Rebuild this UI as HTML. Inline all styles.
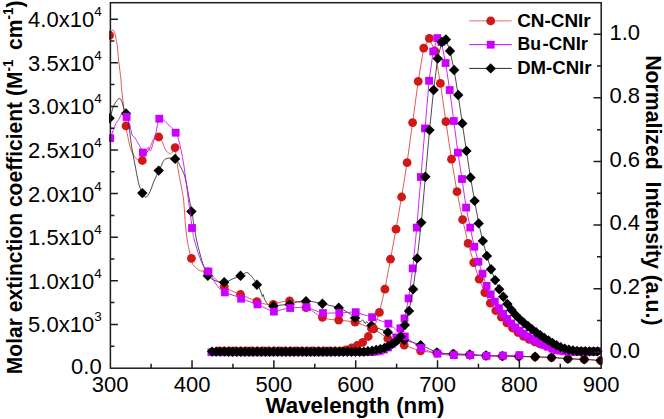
<!DOCTYPE html>
<html><head><meta charset="utf-8"><style>
html,body{margin:0;padding:0;background:#fff;overflow:hidden;}
svg{display:block;}
</style></head><body>
<svg width="664" height="419" viewBox="0 0 664 419">
<defs><clipPath id="cp"><rect x="109" y="1" width="493.5" height="368"/></clipPath></defs>
<g clip-path="url(#cp)">
<path d="M110.2,35.4 C110.4,34.8 111.0,32.4 111.5,31.5 C112.0,30.6 112.6,29.6 113.3,30.3 C114.0,31.1 114.8,33.0 115.5,36.0 C116.2,39.0 117.0,44.0 117.5,48.0 C118.0,52.0 118.0,54.7 118.6,60.0 C119.2,65.3 120.5,75.0 121.0,80.0 C121.5,85.0 121.2,85.5 121.7,90.0 C122.2,94.5 123.0,101.1 123.7,107.0 C124.4,112.9 125.1,121.2 125.7,125.6 C126.3,130.0 126.4,129.6 127.2,133.4 C128.0,137.2 129.2,144.5 130.5,148.4 C131.8,152.3 133.4,154.9 134.7,156.8 C135.9,158.7 136.8,159.2 138.0,159.8 C139.2,160.4 140.7,161.3 141.9,160.5 C143.1,159.7 143.7,157.0 145.0,155.0 C146.3,153.0 148.2,151.2 149.7,148.4 C151.2,145.6 152.4,140.3 153.9,138.4 C155.4,136.5 157.0,136.5 158.4,137.0 C159.8,137.5 161.1,139.6 162.2,141.5 C163.3,143.4 163.8,146.7 165.0,148.7 C166.2,150.7 168.2,153.1 169.4,153.7 C170.6,154.3 171.3,153.3 172.2,152.3 C173.1,151.3 173.9,144.9 174.8,147.6 C175.8,150.3 176.8,162.1 177.9,168.7 C179.0,175.3 180.6,182.1 181.5,187.3 C182.4,192.5 182.9,193.7 183.6,200.0 C184.3,206.3 184.8,218.0 185.5,225.0 C186.2,232.0 186.6,236.4 187.5,242.0 C188.4,247.6 190.3,254.6 191.2,258.3 C192.1,262.0 191.7,262.4 192.9,264.4 C194.1,266.3 196.9,268.9 198.6,270.0 C200.3,271.1 201.3,270.9 202.9,271.2 C204.5,271.5 206.2,270.6 208.4,272.0 C210.6,273.4 213.2,277.0 215.8,279.4 C218.4,281.8 221.4,284.6 224.1,286.5 C226.8,288.4 229.3,289.7 232.0,291.0 C234.7,292.3 237.6,293.3 240.4,294.5 C243.2,295.7 246.2,296.8 249.0,298.0 C251.8,299.2 254.5,300.6 257.2,301.6 C259.9,302.6 262.4,303.5 265.0,304.0 C267.6,304.5 270.3,304.7 273.0,304.4 C275.7,304.1 278.2,302.6 281.0,302.0 C283.8,301.4 286.3,300.8 289.5,300.8 C292.7,300.8 297.1,301.3 300.0,302.2 C302.9,303.1 304.4,304.4 306.6,306.0 C308.8,307.6 310.4,309.6 313.0,311.5 C315.6,313.4 319.4,316.0 322.3,317.3 C325.2,318.6 327.3,318.9 330.1,319.4 C332.9,319.9 336.1,319.8 338.9,320.1 C341.7,320.4 344.3,320.6 347.0,321.0 C349.7,321.4 352.4,321.5 355.1,322.2 C357.8,322.9 360.2,323.9 363.0,325.0 C365.8,326.1 369.2,327.2 372.0,328.5 C374.8,329.8 377.3,331.3 380.0,333.0 C382.7,334.7 385.3,337.2 388.0,338.7 C390.7,340.2 393.4,340.9 396.0,342.0 C398.6,343.1 400.9,344.1 403.6,345.1 C406.3,346.1 409.1,347.1 412.0,348.0 C414.9,348.9 416.6,350.0 420.8,350.8 C425.1,351.6 432.0,352.5 437.5,353.0 C443.0,353.5 448.4,353.7 453.9,354.0 C459.3,354.3 464.8,354.7 470.2,355.0 C475.6,355.3 481.2,355.8 486.6,356.0 C492.1,356.2 497.4,356.1 502.9,356.2 C508.3,356.3 513.8,356.4 519.3,356.5 C524.8,356.6 530.2,356.8 535.7,357.0 C541.2,357.2 546.5,357.3 552.0,357.6 C557.5,357.9 562.9,358.5 568.4,358.8 C573.9,359.1 579.3,359.1 584.8,359.4 C590.3,359.7 598.5,360.4 601.2,360.6" fill="none" stroke="#e03a3a" stroke-width="0.85"/><g fill="#d01818"><circle cx="109.6" cy="35.4" r="4.4"/><circle cx="126.0" cy="125.8" r="4.4"/><circle cx="142.3" cy="160.5" r="4.4"/><circle cx="158.7" cy="137.0" r="4.4"/><circle cx="175.1" cy="147.6" r="4.4"/><circle cx="191.4" cy="258.3" r="4.4"/><circle cx="207.8" cy="272.0" r="4.4"/><circle cx="224.2" cy="286.5" r="4.4"/><circle cx="240.5" cy="294.5" r="4.4"/><circle cx="256.9" cy="301.6" r="4.4"/><circle cx="273.3" cy="304.4" r="4.4"/><circle cx="289.6" cy="300.8" r="4.4"/><circle cx="306.0" cy="307.6" r="4.4"/><circle cx="322.4" cy="317.3" r="4.4"/><circle cx="338.7" cy="320.1" r="4.4"/><circle cx="355.1" cy="322.2" r="4.4"/><circle cx="371.5" cy="328.5" r="4.4"/><circle cx="387.8" cy="338.7" r="4.4"/><circle cx="404.2" cy="345.1" r="4.4"/><circle cx="420.6" cy="350.8" r="4.4"/><circle cx="436.9" cy="353.0" r="4.4"/><circle cx="453.3" cy="354.0" r="4.4"/><circle cx="469.7" cy="355.0" r="4.4"/><circle cx="486.0" cy="356.0" r="4.4"/><circle cx="502.4" cy="356.2" r="4.4"/><circle cx="518.8" cy="356.5" r="4.4"/><circle cx="535.1" cy="357.0" r="4.4"/><circle cx="551.5" cy="357.6" r="4.4"/><circle cx="567.9" cy="358.8" r="4.4"/><circle cx="584.2" cy="359.4" r="4.4"/><circle cx="600.6" cy="360.6" r="4.4"/></g>
<path d="M110.2,118.3 C110.7,116.4 112.2,109.8 113.2,107.0 C114.2,104.2 115.4,102.6 116.5,101.2 C117.6,99.8 118.8,98.2 119.8,98.5 C120.8,98.8 121.6,101.0 122.4,103.1 C123.2,105.2 123.7,109.3 124.4,111.0 C125.1,112.7 125.8,111.2 126.6,113.5 C127.3,115.8 128.1,119.8 128.9,125.0 C129.7,130.2 130.3,137.7 131.4,145.0 C132.5,152.3 134.4,161.8 135.7,168.6 C137.0,175.4 138.1,181.8 139.3,185.8 C140.5,189.8 141.8,190.6 142.9,192.5 C144.0,194.4 144.6,197.5 145.8,197.3 C147.0,197.1 148.7,194.4 150.1,191.5 C151.5,188.6 152.9,183.5 154.4,180.0 C155.9,176.5 157.8,173.8 159.3,170.6 C160.9,167.4 162.1,162.8 163.7,160.7 C165.2,158.6 166.6,158.5 168.6,158.2 C170.6,157.9 173.8,157.6 175.7,158.9 C177.6,160.2 178.4,162.8 180.0,165.8 C181.6,168.9 183.4,171.5 185.0,177.2 C186.6,182.9 188.2,194.3 189.4,200.0 C190.6,205.7 191.2,207.2 192.0,211.5 C192.8,215.8 193.2,221.2 194.0,226.0 C194.8,230.8 195.5,235.3 196.5,240.0 C197.5,244.7 198.8,249.5 200.0,254.0 C201.2,258.5 202.6,263.4 204.0,267.0 C205.4,270.6 206.6,273.6 208.4,275.8 C210.2,278.1 212.3,279.4 215.0,280.5 C217.7,281.6 221.8,282.5 224.8,282.2 C227.8,281.9 230.3,279.8 233.0,278.7 C235.7,277.6 238.6,276.8 241.1,275.8 C243.6,274.8 245.2,271.4 247.9,272.9 C250.6,274.4 255.2,281.2 257.5,284.7 C259.8,288.2 260.7,291.7 261.5,293.7 C262.3,295.7 262.2,296.4 262.5,296.5 C262.8,296.6 263.0,294.1 263.3,294.5 C263.6,294.9 263.6,297.2 264.5,299.0 C265.4,300.8 267.1,303.9 268.7,305.1 C270.3,306.3 271.8,306.2 273.9,306.2 C275.9,306.2 278.3,305.3 281.0,305.0 C283.7,304.7 287.5,304.9 290.2,304.4 C292.9,303.9 294.3,302.6 297.0,302.0 C299.7,301.4 303.8,300.8 306.6,300.8 C309.4,300.8 311.3,301.5 314.0,302.0 C316.7,302.5 320.2,303.1 322.9,303.7 C325.6,304.3 327.3,304.8 330.0,305.5 C332.7,306.2 336.5,306.7 339.3,307.8 C342.1,308.9 344.3,310.3 347.0,312.0 C349.7,313.7 353.5,316.3 355.7,317.9 C357.9,319.5 358.8,321.1 360.0,321.5 C361.2,321.9 362.1,319.6 362.9,320.0 C363.7,320.4 364.4,323.4 365.0,323.6 C365.6,323.9 365.9,321.4 366.6,321.5 C367.3,321.6 368.1,323.8 369.0,324.5 C369.9,325.2 370.2,324.8 372.0,325.5 C373.8,326.2 377.3,327.9 380.0,329.0 C382.7,330.1 385.7,331.0 388.4,332.2 C391.1,333.4 393.3,334.7 396.0,336.0 C398.7,337.3 400.6,338.5 404.8,340.0 C409.0,341.5 415.7,343.0 421.1,345.1 C426.6,347.2 432.0,350.9 437.5,352.4 C443.0,353.9 448.4,353.5 453.9,353.9 C459.3,354.2 464.8,354.2 470.2,354.5 C475.6,354.8 481.2,355.2 486.6,355.5 C492.1,355.8 497.4,355.9 502.9,356.0 C508.3,356.1 513.8,356.2 519.3,356.3 C524.8,356.4 530.2,356.6 535.7,356.8 C541.2,357.0 546.5,357.1 552.0,357.4 C557.5,357.7 562.9,358.5 568.4,358.8 C573.9,359.1 579.3,359.1 584.8,359.4 C590.3,359.7 598.5,360.4 601.2,360.6" fill="none" stroke="#2a2a2a" stroke-width="0.85"/><g fill="#000"><path d="M109.6,113.1l5.2,5.2l-5.2,5.2l-5.2,-5.2z"/><path d="M126.0,108.3l5.2,5.2l-5.2,5.2l-5.2,-5.2z"/><path d="M142.3,187.9l5.2,5.2l-5.2,5.2l-5.2,-5.2z"/><path d="M158.7,165.4l5.2,5.2l-5.2,5.2l-5.2,-5.2z"/><path d="M175.1,153.7l5.2,5.2l-5.2,5.2l-5.2,-5.2z"/><path d="M191.4,206.3l5.2,5.2l-5.2,5.2l-5.2,-5.2z"/><path d="M207.8,270.6l5.2,5.2l-5.2,5.2l-5.2,-5.2z"/><path d="M224.2,277.0l5.2,5.2l-5.2,5.2l-5.2,-5.2z"/><path d="M240.5,270.6l5.2,5.2l-5.2,5.2l-5.2,-5.2z"/><path d="M256.9,279.5l5.2,5.2l-5.2,5.2l-5.2,-5.2z"/><path d="M273.3,301.0l5.2,5.2l-5.2,5.2l-5.2,-5.2z"/><path d="M289.6,299.2l5.2,5.2l-5.2,5.2l-5.2,-5.2z"/><path d="M306.0,296.0l5.2,5.2l-5.2,5.2l-5.2,-5.2z"/><path d="M322.4,298.5l5.2,5.2l-5.2,5.2l-5.2,-5.2z"/><path d="M338.7,302.6l5.2,5.2l-5.2,5.2l-5.2,-5.2z"/><path d="M355.1,312.7l5.2,5.2l-5.2,5.2l-5.2,-5.2z"/><path d="M371.5,320.3l5.2,5.2l-5.2,5.2l-5.2,-5.2z"/><path d="M387.8,327.0l5.2,5.2l-5.2,5.2l-5.2,-5.2z"/><path d="M404.2,334.8l5.2,5.2l-5.2,5.2l-5.2,-5.2z"/><path d="M420.6,339.9l5.2,5.2l-5.2,5.2l-5.2,-5.2z"/><path d="M436.9,347.2l5.2,5.2l-5.2,5.2l-5.2,-5.2z"/><path d="M453.3,348.7l5.2,5.2l-5.2,5.2l-5.2,-5.2z"/><path d="M469.7,349.3l5.2,5.2l-5.2,5.2l-5.2,-5.2z"/><path d="M486.0,350.3l5.2,5.2l-5.2,5.2l-5.2,-5.2z"/><path d="M502.4,350.8l5.2,5.2l-5.2,5.2l-5.2,-5.2z"/><path d="M518.8,351.1l5.2,5.2l-5.2,5.2l-5.2,-5.2z"/><path d="M535.1,351.6l5.2,5.2l-5.2,5.2l-5.2,-5.2z"/><path d="M551.5,352.2l5.2,5.2l-5.2,5.2l-5.2,-5.2z"/><path d="M567.9,353.6l5.2,5.2l-5.2,5.2l-5.2,-5.2z"/><path d="M584.2,354.2l5.2,5.2l-5.2,5.2l-5.2,-5.2z"/><path d="M600.6,355.4l5.2,5.2l-5.2,5.2l-5.2,-5.2z"/></g>
<path d="M110.2,138.4 C110.6,137.3 111.8,134.3 112.6,132.0 C113.4,129.7 114.4,126.5 115.2,124.8 C116.0,123.0 116.7,122.3 117.2,121.5 C117.8,120.7 118.0,121.1 118.5,120.2 C119.0,119.3 119.8,117.3 120.4,116.2 C121.1,115.1 121.4,113.5 122.4,113.6 C123.4,113.7 125.1,115.0 126.3,116.9 C127.5,118.8 128.7,122.0 129.7,125.0 C130.7,128.0 131.4,132.9 132.2,135.0 C133.0,137.1 133.4,135.8 134.7,137.6 C135.9,139.4 138.3,143.4 139.7,145.9 C141.1,148.4 141.8,151.5 143.0,152.5 C144.2,153.5 146.3,152.7 147.2,151.8 C148.1,150.9 147.9,147.2 148.5,147.0 C149.1,146.8 149.5,152.2 150.6,150.5 C151.7,148.8 153.8,141.3 155.0,136.7 C156.2,132.1 157.2,126.0 157.9,123.0 C158.6,120.0 158.4,119.2 159.4,118.7 C160.4,118.2 161.8,118.6 163.7,120.0 C165.6,121.4 168.7,125.1 170.8,127.2 C172.9,129.3 174.9,131.0 176.1,132.7 C177.3,134.4 176.8,132.6 178.0,137.2 C179.2,141.8 181.5,151.2 183.0,160.0 C184.5,168.8 185.7,178.7 187.2,190.0 C188.7,201.3 191.0,219.7 192.2,228.0 C193.4,236.3 193.2,235.7 194.3,240.0 C195.4,244.3 197.0,249.7 198.5,254.0 C200.0,258.3 201.8,263.1 203.5,266.0 C205.2,268.9 206.4,268.2 208.7,271.5 C211.0,274.8 214.5,282.3 217.2,285.8 C219.9,289.3 221.8,290.6 225.1,292.4 C228.4,294.2 234.6,295.6 237.3,296.6 C240.0,297.7 239.2,297.9 241.1,298.7 C243.0,299.5 246.3,300.6 249.0,301.5 C251.7,302.4 254.8,303.3 257.5,304.4 C260.2,305.5 262.3,306.8 265.0,308.0 C267.7,309.2 271.1,311.4 273.9,311.6 C276.7,311.9 279.3,310.1 282.0,309.5 C284.7,308.9 287.5,308.3 290.2,308.0 C292.9,307.7 295.3,307.6 298.0,307.5 C300.7,307.4 303.9,306.8 306.6,307.2 C309.3,307.6 311.3,309.0 314.0,310.0 C316.7,311.0 320.1,312.5 322.9,313.0 C325.7,313.5 328.3,313.0 331.0,313.0 C333.7,313.0 336.6,313.0 339.3,312.9 C342.0,312.8 344.3,312.6 347.0,312.5 C349.7,312.4 353.0,311.9 355.7,312.2 C358.4,312.5 360.3,313.7 363.0,314.5 C365.7,315.3 369.2,316.2 372.0,317.2 C374.8,318.2 377.3,319.4 380.0,320.5 C382.7,321.6 385.6,322.0 388.4,323.6 C391.1,325.2 393.8,327.9 396.5,330.0 C399.2,332.1 402.1,334.4 404.8,336.5 C407.6,338.6 410.3,340.6 413.0,342.5 C415.7,344.4 417.0,346.1 421.1,348.0 C425.2,349.9 432.0,352.5 437.5,353.7 C443.0,354.9 448.4,354.9 453.9,355.1 C459.3,355.3 464.8,355.0 470.2,355.1 C475.6,355.2 481.2,355.7 486.6,355.8 C492.1,355.9 497.4,355.7 502.9,355.6 C508.3,355.5 516.6,355.2 519.3,355.1" fill="none" stroke="#cc00ff" stroke-width="0.85"/><g fill="#cc00ff"><rect x="106.3" y="134.3" width="7.8" height="7.8"/><rect x="122.7" y="113.1" width="7.8" height="7.8"/><rect x="139.0" y="148.6" width="7.8" height="7.8"/><rect x="155.4" y="114.8" width="7.8" height="7.8"/><rect x="171.8" y="128.8" width="7.8" height="7.8"/><rect x="188.1" y="224.1" width="7.8" height="7.8"/><rect x="204.5" y="267.6" width="7.8" height="7.8"/><rect x="220.9" y="288.5" width="7.8" height="7.8"/><rect x="237.2" y="294.8" width="7.8" height="7.8"/><rect x="253.6" y="300.5" width="7.8" height="7.8"/><rect x="270.0" y="307.7" width="7.8" height="7.8"/><rect x="286.3" y="304.1" width="7.8" height="7.8"/><rect x="302.7" y="303.3" width="7.8" height="7.8"/><rect x="319.1" y="309.1" width="7.8" height="7.8"/><rect x="335.4" y="309.0" width="7.8" height="7.8"/><rect x="351.8" y="308.3" width="7.8" height="7.8"/><rect x="368.2" y="313.3" width="7.8" height="7.8"/><rect x="384.5" y="319.7" width="7.8" height="7.8"/><rect x="400.9" y="332.6" width="7.8" height="7.8"/><rect x="417.3" y="344.1" width="7.8" height="7.8"/><rect x="433.6" y="349.8" width="7.8" height="7.8"/><rect x="450.0" y="351.2" width="7.8" height="7.8"/><rect x="466.4" y="351.2" width="7.8" height="7.8"/><rect x="482.7" y="351.9" width="7.8" height="7.8"/><rect x="499.1" y="351.7" width="7.8" height="7.8"/><rect x="515.5" y="351.2" width="7.8" height="7.8"/></g>
<path d="M218.5,350.9 L224.1,350.9 L229.6,350.9 L235.2,350.9 L240.7,350.9 L246.2,350.9 L251.8,350.9 L257.3,350.9 L262.9,350.9 L268.4,350.9 L274.0,350.9 L279.5,350.9 L285.1,350.9 L290.6,350.9 L296.2,350.9 L301.7,350.9 L307.3,350.9 L312.8,350.9 L318.4,350.9 L323.9,350.9 L329.4,350.9 L335.0,350.9 L340.5,351.0 L346.1,349.9 L351.6,348.0 L357.2,345.5 L362.7,342.3 L368.3,336.5 L373.8,329.0 L379.4,312.4 L384.9,289.2 L390.5,259.2 L396.0,229.2 L401.6,197.0 L407.1,162.6 L412.6,122.6 L418.2,81.3 L423.7,48.1 L429.3,38.3 L434.8,51.0 L440.4,83.4 L445.9,121.7 L451.5,159.2 L457.0,191.7 L462.6,219.7 L468.1,243.4 L473.7,262.6 L479.2,279.2 L484.8,292.6 L490.3,303.2 L495.8,310.7 L501.4,317.2 L506.9,322.9 L512.5,328.0 L518.0,332.5 L523.6,336.4 L529.1,339.3 L534.7,341.8 L540.2,343.9 L545.8,345.9 L551.3,347.8 L556.9,349.4 L562.4,350.4 L568.0,351.1 L573.5,351.5 L579.0,351.5 L584.6,351.6 L590.1,351.6 L595.7,351.6" fill="none" stroke="#e03a3a" stroke-width="0.85"/><g fill="#d01818"><circle cx="218.5" cy="350.9" r="4.4"/><circle cx="224.1" cy="350.9" r="4.4"/><circle cx="229.6" cy="350.9" r="4.4"/><circle cx="235.2" cy="350.9" r="4.4"/><circle cx="240.7" cy="350.9" r="4.4"/><circle cx="246.2" cy="350.9" r="4.4"/><circle cx="251.8" cy="350.9" r="4.4"/><circle cx="257.3" cy="350.9" r="4.4"/><circle cx="262.9" cy="350.9" r="4.4"/><circle cx="268.4" cy="350.9" r="4.4"/><circle cx="274.0" cy="350.9" r="4.4"/><circle cx="279.5" cy="350.9" r="4.4"/><circle cx="285.1" cy="350.9" r="4.4"/><circle cx="290.6" cy="350.9" r="4.4"/><circle cx="296.2" cy="350.9" r="4.4"/><circle cx="301.7" cy="350.9" r="4.4"/><circle cx="307.3" cy="350.9" r="4.4"/><circle cx="312.8" cy="350.9" r="4.4"/><circle cx="318.4" cy="350.9" r="4.4"/><circle cx="323.9" cy="350.9" r="4.4"/><circle cx="329.4" cy="350.9" r="4.4"/><circle cx="335.0" cy="350.9" r="4.4"/><circle cx="340.5" cy="351.0" r="4.4"/><circle cx="346.1" cy="349.9" r="4.4"/><circle cx="351.6" cy="348.0" r="4.4"/><circle cx="357.2" cy="345.5" r="4.4"/><circle cx="362.7" cy="342.3" r="4.4"/><circle cx="368.3" cy="336.5" r="4.4"/><circle cx="373.8" cy="329.0" r="4.4"/><circle cx="379.4" cy="312.4" r="4.4"/><circle cx="384.9" cy="289.2" r="4.4"/><circle cx="390.5" cy="259.2" r="4.4"/><circle cx="396.0" cy="229.2" r="4.4"/><circle cx="401.6" cy="197.0" r="4.4"/><circle cx="407.1" cy="162.6" r="4.4"/><circle cx="412.6" cy="122.6" r="4.4"/><circle cx="418.2" cy="81.3" r="4.4"/><circle cx="423.7" cy="48.1" r="4.4"/><circle cx="429.3" cy="38.3" r="4.4"/><circle cx="434.8" cy="51.0" r="4.4"/><circle cx="440.4" cy="83.4" r="4.4"/><circle cx="445.9" cy="121.7" r="4.4"/><circle cx="451.5" cy="159.2" r="4.4"/><circle cx="457.0" cy="191.7" r="4.4"/><circle cx="462.6" cy="219.7" r="4.4"/><circle cx="468.1" cy="243.4" r="4.4"/><circle cx="473.7" cy="262.6" r="4.4"/><circle cx="479.2" cy="279.2" r="4.4"/><circle cx="484.8" cy="292.6" r="4.4"/><circle cx="490.3" cy="303.2" r="4.4"/><circle cx="495.8" cy="310.7" r="4.4"/><circle cx="501.4" cy="317.2" r="4.4"/><circle cx="506.9" cy="322.9" r="4.4"/><circle cx="512.5" cy="328.0" r="4.4"/><circle cx="518.0" cy="332.5" r="4.4"/><circle cx="523.6" cy="336.4" r="4.4"/><circle cx="529.1" cy="339.3" r="4.4"/><circle cx="534.7" cy="341.8" r="4.4"/><circle cx="540.2" cy="343.9" r="4.4"/><circle cx="545.8" cy="345.9" r="4.4"/><circle cx="551.3" cy="347.8" r="4.4"/><circle cx="556.9" cy="349.4" r="4.4"/><circle cx="562.4" cy="350.4" r="4.4"/><circle cx="568.0" cy="351.1" r="4.4"/><circle cx="573.5" cy="351.5" r="4.4"/><circle cx="579.0" cy="351.5" r="4.4"/><circle cx="584.6" cy="351.6" r="4.4"/><circle cx="590.1" cy="351.6" r="4.4"/><circle cx="595.7" cy="351.6" r="4.4"/></g>
<path d="M211.4,352.2 L215.5,352.2 L219.6,352.2 L223.7,352.2 L227.8,352.2 L231.9,352.2 L236.0,352.2 L240.2,352.2 L244.3,352.2 L248.4,352.2 L252.5,352.2 L256.6,352.2 L260.7,352.2 L264.8,352.2 L268.9,352.2 L273.0,352.2 L277.1,352.2 L281.2,352.2 L285.3,352.2 L289.4,352.2 L293.6,352.2 L297.7,352.2 L301.8,352.2 L305.9,352.2 L310.0,352.2 L314.1,352.2 L318.2,352.2 L322.3,352.2 L326.4,352.2 L330.5,352.2 L334.6,352.2 L338.7,352.1 L342.9,352.1 L347.0,352.1 L351.1,352.1 L355.2,352.1 L359.3,352.1 L363.4,352.1 L367.5,352.1 L371.6,352.1 L375.7,351.6 L379.8,350.8 L383.9,349.6 L388.0,347.4 L392.1,343.8 L396.3,337.4 L400.4,328.3 L404.5,318.4 L408.6,298.4 L412.7,268.4 L416.8,227.6 L420.9,177.0 L425.0,128.4 L429.1,80.8 L433.2,51.5 L437.3,38.1 L441.4,42.0 L445.6,63.0 L449.7,90.0 L453.8,121.0 L457.9,152.6 L462.0,179.0 L466.1,207.6 L470.2,227.6 L474.3,246.7 L478.4,261.7 L482.5,273.7 L486.6,285.9 L490.7,294.3 L494.8,301.7 L499.0,308.2 L503.1,313.8 L507.2,318.9 L511.3,323.4 L515.4,327.3 L519.5,330.7 L523.6,333.7 L527.7,336.4 L531.8,338.8 L535.9,340.9 L540.0,342.9 L544.1,344.8 L548.2,346.7 L552.4,348.6 L556.5,350.0 L560.6,350.7 L564.7,351.2 L568.8,351.6 L572.9,351.8 L577.0,351.8 L581.1,351.8 L585.2,351.7 L589.3,351.7 L593.4,351.5 L597.5,351.1" fill="none" stroke="#cc00ff" stroke-width="0.85"/><g fill="#cc00ff"><rect x="207.5" y="348.3" width="7.8" height="7.8"/><rect x="211.6" y="348.3" width="7.8" height="7.8"/><rect x="215.7" y="348.3" width="7.8" height="7.8"/><rect x="219.8" y="348.3" width="7.8" height="7.8"/><rect x="223.9" y="348.3" width="7.8" height="7.8"/><rect x="228.0" y="348.3" width="7.8" height="7.8"/><rect x="232.1" y="348.3" width="7.8" height="7.8"/><rect x="236.3" y="348.3" width="7.8" height="7.8"/><rect x="240.4" y="348.3" width="7.8" height="7.8"/><rect x="244.5" y="348.3" width="7.8" height="7.8"/><rect x="248.6" y="348.3" width="7.8" height="7.8"/><rect x="252.7" y="348.3" width="7.8" height="7.8"/><rect x="256.8" y="348.3" width="7.8" height="7.8"/><rect x="260.9" y="348.3" width="7.8" height="7.8"/><rect x="265.0" y="348.3" width="7.8" height="7.8"/><rect x="269.1" y="348.3" width="7.8" height="7.8"/><rect x="273.2" y="348.3" width="7.8" height="7.8"/><rect x="277.3" y="348.3" width="7.8" height="7.8"/><rect x="281.4" y="348.3" width="7.8" height="7.8"/><rect x="285.5" y="348.3" width="7.8" height="7.8"/><rect x="289.7" y="348.3" width="7.8" height="7.8"/><rect x="293.8" y="348.3" width="7.8" height="7.8"/><rect x="297.9" y="348.3" width="7.8" height="7.8"/><rect x="302.0" y="348.3" width="7.8" height="7.8"/><rect x="306.1" y="348.3" width="7.8" height="7.8"/><rect x="310.2" y="348.3" width="7.8" height="7.8"/><rect x="314.3" y="348.3" width="7.8" height="7.8"/><rect x="318.4" y="348.3" width="7.8" height="7.8"/><rect x="322.5" y="348.3" width="7.8" height="7.8"/><rect x="326.6" y="348.3" width="7.8" height="7.8"/><rect x="330.7" y="348.3" width="7.8" height="7.8"/><rect x="334.8" y="348.2" width="7.8" height="7.8"/><rect x="339.0" y="348.2" width="7.8" height="7.8"/><rect x="343.1" y="348.2" width="7.8" height="7.8"/><rect x="347.2" y="348.2" width="7.8" height="7.8"/><rect x="351.3" y="348.2" width="7.8" height="7.8"/><rect x="355.4" y="348.2" width="7.8" height="7.8"/><rect x="359.5" y="348.2" width="7.8" height="7.8"/><rect x="363.6" y="348.2" width="7.8" height="7.8"/><rect x="367.7" y="348.2" width="7.8" height="7.8"/><rect x="371.8" y="347.7" width="7.8" height="7.8"/><rect x="375.9" y="346.9" width="7.8" height="7.8"/><rect x="380.0" y="345.7" width="7.8" height="7.8"/><rect x="384.1" y="343.5" width="7.8" height="7.8"/><rect x="388.2" y="339.9" width="7.8" height="7.8"/><rect x="392.4" y="333.5" width="7.8" height="7.8"/><rect x="396.5" y="324.4" width="7.8" height="7.8"/><rect x="400.6" y="314.5" width="7.8" height="7.8"/><rect x="404.7" y="294.5" width="7.8" height="7.8"/><rect x="408.8" y="264.5" width="7.8" height="7.8"/><rect x="412.9" y="223.7" width="7.8" height="7.8"/><rect x="417.0" y="173.1" width="7.8" height="7.8"/><rect x="421.1" y="124.5" width="7.8" height="7.8"/><rect x="425.2" y="76.9" width="7.8" height="7.8"/><rect x="429.3" y="47.6" width="7.8" height="7.8"/><rect x="433.4" y="34.2" width="7.8" height="7.8"/><rect x="437.5" y="38.1" width="7.8" height="7.8"/><rect x="441.7" y="59.1" width="7.8" height="7.8"/><rect x="445.8" y="86.1" width="7.8" height="7.8"/><rect x="449.9" y="117.1" width="7.8" height="7.8"/><rect x="454.0" y="148.7" width="7.8" height="7.8"/><rect x="458.1" y="175.1" width="7.8" height="7.8"/><rect x="462.2" y="203.7" width="7.8" height="7.8"/><rect x="466.3" y="223.7" width="7.8" height="7.8"/><rect x="470.4" y="242.8" width="7.8" height="7.8"/><rect x="474.5" y="257.8" width="7.8" height="7.8"/><rect x="478.6" y="269.8" width="7.8" height="7.8"/><rect x="482.7" y="282.0" width="7.8" height="7.8"/><rect x="486.8" y="290.4" width="7.8" height="7.8"/><rect x="490.9" y="297.8" width="7.8" height="7.8"/><rect x="495.1" y="304.3" width="7.8" height="7.8"/><rect x="499.2" y="309.9" width="7.8" height="7.8"/><rect x="503.3" y="315.0" width="7.8" height="7.8"/><rect x="507.4" y="319.5" width="7.8" height="7.8"/><rect x="511.5" y="323.4" width="7.8" height="7.8"/><rect x="515.6" y="326.8" width="7.8" height="7.8"/><rect x="519.7" y="329.8" width="7.8" height="7.8"/><rect x="523.8" y="332.5" width="7.8" height="7.8"/><rect x="527.9" y="334.9" width="7.8" height="7.8"/><rect x="532.0" y="337.0" width="7.8" height="7.8"/><rect x="536.1" y="339.0" width="7.8" height="7.8"/><rect x="540.2" y="340.9" width="7.8" height="7.8"/><rect x="544.4" y="342.8" width="7.8" height="7.8"/><rect x="548.5" y="344.7" width="7.8" height="7.8"/><rect x="552.6" y="346.1" width="7.8" height="7.8"/><rect x="556.7" y="346.8" width="7.8" height="7.8"/><rect x="560.8" y="347.3" width="7.8" height="7.8"/><rect x="564.9" y="347.7" width="7.8" height="7.8"/><rect x="569.0" y="347.9" width="7.8" height="7.8"/><rect x="573.1" y="347.9" width="7.8" height="7.8"/><rect x="577.2" y="347.9" width="7.8" height="7.8"/><rect x="581.3" y="347.8" width="7.8" height="7.8"/><rect x="585.4" y="347.8" width="7.8" height="7.8"/><rect x="589.5" y="347.6" width="7.8" height="7.8"/><rect x="593.6" y="347.2" width="7.8" height="7.8"/></g>
<path d="M212.1,351.6 L216.2,351.6 L220.3,351.6 L224.4,351.6 L228.5,351.7 L232.6,351.7 L236.7,351.7 L240.8,351.7 L244.9,351.7 L249.0,351.7 L253.1,351.7 L257.2,351.7 L261.3,351.7 L265.4,351.7 L269.5,351.8 L273.6,351.8 L277.7,351.8 L281.8,351.8 L285.9,351.8 L290.0,351.8 L294.1,351.8 L298.2,351.8 L302.3,351.8 L306.4,351.8 L310.5,351.8 L314.6,351.8 L318.7,351.8 L322.8,351.8 L326.9,351.8 L331.0,351.8 L335.1,351.8 L339.2,351.8 L343.3,351.8 L347.4,351.8 L351.5,351.8 L355.6,351.8 L359.7,351.8 L363.8,351.7 L367.9,351.3 L372.1,350.7 L376.2,349.9 L380.3,349.1 L384.4,347.9 L388.5,346.1 L392.6,343.8 L396.7,341.0 L400.8,336.6 L404.9,325.1 L409.0,310.9 L413.1,289.2 L417.2,258.4 L421.3,222.6 L425.4,176.7 L429.5,130.1 L433.6,90.0 L437.7,58.6 L441.8,42.0 L445.9,39.5 L450.0,51.0 L454.1,70.0 L458.2,95.0 L462.3,123.4 L466.4,150.9 L470.5,177.5 L474.6,200.9 L478.7,223.4 L482.8,240.9 L486.9,255.9 L491.0,269.2 L495.1,280.1 L499.2,289.3 L503.3,296.8 L507.4,304.0 L511.5,310.0 L515.6,315.0 L519.7,319.1 L523.8,322.8 L527.9,326.0 L532.0,329.2 L536.1,332.3 L540.2,335.1 L544.3,337.9 L548.4,340.5 L552.5,343.0 L556.6,345.2 L560.7,347.1 L564.8,348.6 L568.9,349.8 L573.0,350.5 L577.1,351.0 L581.2,351.2 L585.3,351.3 L589.4,351.4 L593.5,351.4 L597.6,351.4" fill="none" stroke="#2a2a2a" stroke-width="0.85"/><g fill="#000"><path d="M212.1,346.4l5.2,5.2l-5.2,5.2l-5.2,-5.2z"/><path d="M216.2,346.4l5.2,5.2l-5.2,5.2l-5.2,-5.2z"/><path d="M220.3,346.4l5.2,5.2l-5.2,5.2l-5.2,-5.2z"/><path d="M224.4,346.4l5.2,5.2l-5.2,5.2l-5.2,-5.2z"/><path d="M228.5,346.5l5.2,5.2l-5.2,5.2l-5.2,-5.2z"/><path d="M232.6,346.5l5.2,5.2l-5.2,5.2l-5.2,-5.2z"/><path d="M236.7,346.5l5.2,5.2l-5.2,5.2l-5.2,-5.2z"/><path d="M240.8,346.5l5.2,5.2l-5.2,5.2l-5.2,-5.2z"/><path d="M244.9,346.5l5.2,5.2l-5.2,5.2l-5.2,-5.2z"/><path d="M249.0,346.5l5.2,5.2l-5.2,5.2l-5.2,-5.2z"/><path d="M253.1,346.5l5.2,5.2l-5.2,5.2l-5.2,-5.2z"/><path d="M257.2,346.5l5.2,5.2l-5.2,5.2l-5.2,-5.2z"/><path d="M261.3,346.5l5.2,5.2l-5.2,5.2l-5.2,-5.2z"/><path d="M265.4,346.5l5.2,5.2l-5.2,5.2l-5.2,-5.2z"/><path d="M269.5,346.6l5.2,5.2l-5.2,5.2l-5.2,-5.2z"/><path d="M273.6,346.6l5.2,5.2l-5.2,5.2l-5.2,-5.2z"/><path d="M277.7,346.6l5.2,5.2l-5.2,5.2l-5.2,-5.2z"/><path d="M281.8,346.6l5.2,5.2l-5.2,5.2l-5.2,-5.2z"/><path d="M285.9,346.6l5.2,5.2l-5.2,5.2l-5.2,-5.2z"/><path d="M290.0,346.6l5.2,5.2l-5.2,5.2l-5.2,-5.2z"/><path d="M294.1,346.6l5.2,5.2l-5.2,5.2l-5.2,-5.2z"/><path d="M298.2,346.6l5.2,5.2l-5.2,5.2l-5.2,-5.2z"/><path d="M302.3,346.6l5.2,5.2l-5.2,5.2l-5.2,-5.2z"/><path d="M306.4,346.6l5.2,5.2l-5.2,5.2l-5.2,-5.2z"/><path d="M310.5,346.6l5.2,5.2l-5.2,5.2l-5.2,-5.2z"/><path d="M314.6,346.6l5.2,5.2l-5.2,5.2l-5.2,-5.2z"/><path d="M318.7,346.6l5.2,5.2l-5.2,5.2l-5.2,-5.2z"/><path d="M322.8,346.6l5.2,5.2l-5.2,5.2l-5.2,-5.2z"/><path d="M326.9,346.6l5.2,5.2l-5.2,5.2l-5.2,-5.2z"/><path d="M331.0,346.6l5.2,5.2l-5.2,5.2l-5.2,-5.2z"/><path d="M335.1,346.6l5.2,5.2l-5.2,5.2l-5.2,-5.2z"/><path d="M339.2,346.6l5.2,5.2l-5.2,5.2l-5.2,-5.2z"/><path d="M343.3,346.6l5.2,5.2l-5.2,5.2l-5.2,-5.2z"/><path d="M347.4,346.6l5.2,5.2l-5.2,5.2l-5.2,-5.2z"/><path d="M351.5,346.6l5.2,5.2l-5.2,5.2l-5.2,-5.2z"/><path d="M355.6,346.6l5.2,5.2l-5.2,5.2l-5.2,-5.2z"/><path d="M359.7,346.6l5.2,5.2l-5.2,5.2l-5.2,-5.2z"/><path d="M363.8,346.5l5.2,5.2l-5.2,5.2l-5.2,-5.2z"/><path d="M367.9,346.1l5.2,5.2l-5.2,5.2l-5.2,-5.2z"/><path d="M372.1,345.5l5.2,5.2l-5.2,5.2l-5.2,-5.2z"/><path d="M376.2,344.7l5.2,5.2l-5.2,5.2l-5.2,-5.2z"/><path d="M380.3,343.9l5.2,5.2l-5.2,5.2l-5.2,-5.2z"/><path d="M384.4,342.7l5.2,5.2l-5.2,5.2l-5.2,-5.2z"/><path d="M388.5,340.9l5.2,5.2l-5.2,5.2l-5.2,-5.2z"/><path d="M392.6,338.6l5.2,5.2l-5.2,5.2l-5.2,-5.2z"/><path d="M396.7,335.8l5.2,5.2l-5.2,5.2l-5.2,-5.2z"/><path d="M400.8,331.4l5.2,5.2l-5.2,5.2l-5.2,-5.2z"/><path d="M404.9,319.9l5.2,5.2l-5.2,5.2l-5.2,-5.2z"/><path d="M409.0,305.7l5.2,5.2l-5.2,5.2l-5.2,-5.2z"/><path d="M413.1,284.0l5.2,5.2l-5.2,5.2l-5.2,-5.2z"/><path d="M417.2,253.2l5.2,5.2l-5.2,5.2l-5.2,-5.2z"/><path d="M421.3,217.4l5.2,5.2l-5.2,5.2l-5.2,-5.2z"/><path d="M425.4,171.5l5.2,5.2l-5.2,5.2l-5.2,-5.2z"/><path d="M429.5,124.9l5.2,5.2l-5.2,5.2l-5.2,-5.2z"/><path d="M433.6,84.8l5.2,5.2l-5.2,5.2l-5.2,-5.2z"/><path d="M437.7,53.4l5.2,5.2l-5.2,5.2l-5.2,-5.2z"/><path d="M441.8,36.8l5.2,5.2l-5.2,5.2l-5.2,-5.2z"/><path d="M445.9,34.3l5.2,5.2l-5.2,5.2l-5.2,-5.2z"/><path d="M450.0,45.8l5.2,5.2l-5.2,5.2l-5.2,-5.2z"/><path d="M454.1,64.8l5.2,5.2l-5.2,5.2l-5.2,-5.2z"/><path d="M458.2,89.8l5.2,5.2l-5.2,5.2l-5.2,-5.2z"/><path d="M462.3,118.2l5.2,5.2l-5.2,5.2l-5.2,-5.2z"/><path d="M466.4,145.7l5.2,5.2l-5.2,5.2l-5.2,-5.2z"/><path d="M470.5,172.3l5.2,5.2l-5.2,5.2l-5.2,-5.2z"/><path d="M474.6,195.7l5.2,5.2l-5.2,5.2l-5.2,-5.2z"/><path d="M478.7,218.2l5.2,5.2l-5.2,5.2l-5.2,-5.2z"/><path d="M482.8,235.7l5.2,5.2l-5.2,5.2l-5.2,-5.2z"/><path d="M486.9,250.7l5.2,5.2l-5.2,5.2l-5.2,-5.2z"/><path d="M491.0,264.0l5.2,5.2l-5.2,5.2l-5.2,-5.2z"/><path d="M495.1,274.9l5.2,5.2l-5.2,5.2l-5.2,-5.2z"/><path d="M499.2,284.1l5.2,5.2l-5.2,5.2l-5.2,-5.2z"/><path d="M503.3,291.6l5.2,5.2l-5.2,5.2l-5.2,-5.2z"/><path d="M507.4,298.8l5.2,5.2l-5.2,5.2l-5.2,-5.2z"/><path d="M511.5,304.8l5.2,5.2l-5.2,5.2l-5.2,-5.2z"/><path d="M515.6,309.8l5.2,5.2l-5.2,5.2l-5.2,-5.2z"/><path d="M519.7,313.9l5.2,5.2l-5.2,5.2l-5.2,-5.2z"/><path d="M523.8,317.6l5.2,5.2l-5.2,5.2l-5.2,-5.2z"/><path d="M527.9,320.8l5.2,5.2l-5.2,5.2l-5.2,-5.2z"/><path d="M532.0,324.0l5.2,5.2l-5.2,5.2l-5.2,-5.2z"/><path d="M536.1,327.1l5.2,5.2l-5.2,5.2l-5.2,-5.2z"/><path d="M540.2,329.9l5.2,5.2l-5.2,5.2l-5.2,-5.2z"/><path d="M544.3,332.7l5.2,5.2l-5.2,5.2l-5.2,-5.2z"/><path d="M548.4,335.3l5.2,5.2l-5.2,5.2l-5.2,-5.2z"/><path d="M552.5,337.8l5.2,5.2l-5.2,5.2l-5.2,-5.2z"/><path d="M556.6,340.0l5.2,5.2l-5.2,5.2l-5.2,-5.2z"/><path d="M560.7,341.9l5.2,5.2l-5.2,5.2l-5.2,-5.2z"/><path d="M564.8,343.4l5.2,5.2l-5.2,5.2l-5.2,-5.2z"/><path d="M568.9,344.6l5.2,5.2l-5.2,5.2l-5.2,-5.2z"/><path d="M573.0,345.3l5.2,5.2l-5.2,5.2l-5.2,-5.2z"/><path d="M577.1,345.8l5.2,5.2l-5.2,5.2l-5.2,-5.2z"/><path d="M581.2,346.0l5.2,5.2l-5.2,5.2l-5.2,-5.2z"/><path d="M585.3,346.1l5.2,5.2l-5.2,5.2l-5.2,-5.2z"/><path d="M589.4,346.2l5.2,5.2l-5.2,5.2l-5.2,-5.2z"/><path d="M593.5,346.2l5.2,5.2l-5.2,5.2l-5.2,-5.2z"/><path d="M597.6,346.2l5.2,5.2l-5.2,5.2l-5.2,-5.2z"/></g>
</g>
<rect x="110.4" y="2.7" width="490.8" height="365.5" fill="none" stroke="#1c1c1c" stroke-width="1.5"/>
<path d="M110.2,346.20h4.2 M110.2,324.40h7.7 M110.2,302.60h4.2 M110.2,280.80h7.7 M110.2,259.00h4.2 M110.2,237.20h7.7 M110.2,215.40h4.2 M110.2,193.60h7.7 M110.2,171.80h4.2 M110.2,150.00h7.7 M110.2,128.20h4.2 M110.2,106.40h7.7 M110.2,84.60h4.2 M110.2,62.80h7.7 M110.2,41.00h4.2 M110.2,19.20h7.7 M151.12,368.0v-4.2 M192.03,368.0v-7.7 M232.95,368.0v-4.2 M273.87,368.0v-7.7 M314.78,368.0v-4.2 M355.70,368.0v-7.7 M396.62,368.0v-4.2 M437.53,368.0v-7.7 M478.45,368.0v-4.2 M519.37,368.0v-7.7 M560.28,368.0v-4.2 M601.2,352.30h-7.7 M601.2,320.49h-4.2 M601.2,288.68h-7.7 M601.2,256.87h-4.2 M601.2,225.06h-7.7 M601.2,193.25h-4.2 M601.2,161.44h-7.7 M601.2,129.63h-4.2 M601.2,97.82h-7.7 M601.2,66.01h-4.2 M601.2,34.20h-7.7" stroke="#1c1c1c" stroke-width="1.5" fill="none"/>
<g font-family="Liberation Sans, sans-serif" font-size="22" fill="#000"><text x="101.7" y="373.80" text-anchor="end">0.0</text><text x="101.7" y="332.40" text-anchor="end">5.0x10<tspan dy="-11" font-size="13.5">3</tspan></text><text x="101.7" y="288.80" text-anchor="end">1.0x10<tspan dy="-11" font-size="13.5">4</tspan></text><text x="101.7" y="245.20" text-anchor="end">1.5x10<tspan dy="-11" font-size="13.5">4</tspan></text><text x="101.7" y="201.60" text-anchor="end">2.0x10<tspan dy="-11" font-size="13.5">4</tspan></text><text x="101.7" y="158.00" text-anchor="end">2.5x10<tspan dy="-11" font-size="13.5">4</tspan></text><text x="101.7" y="114.40" text-anchor="end">3.0x10<tspan dy="-11" font-size="13.5">4</tspan></text><text x="101.7" y="70.80" text-anchor="end">3.5x10<tspan dy="-11" font-size="13.5">4</tspan></text><text x="101.7" y="27.20" text-anchor="end">4.0x10<tspan dy="-11" font-size="13.5">4</tspan></text><text x="110.20" y="391.8" text-anchor="middle">300</text><text x="192.03" y="391.8" text-anchor="middle">400</text><text x="273.87" y="391.8" text-anchor="middle">500</text><text x="355.70" y="391.8" text-anchor="middle">600</text><text x="437.53" y="391.8" text-anchor="middle">700</text><text x="519.37" y="391.8" text-anchor="middle">800</text><text x="601.20" y="391.8" text-anchor="middle">900</text><text x="609.5" y="357.70">0.0</text><text x="609.5" y="294.08">0.2</text><text x="609.5" y="230.46">0.4</text><text x="609.5" y="166.84">0.6</text><text x="609.5" y="103.22">0.8</text><text x="609.5" y="39.60">1.0</text></g>
<text font-family="Liberation Sans, sans-serif" font-size="22" font-weight="bold" x="355" y="412.8" text-anchor="middle" textLength="179" lengthAdjust="spacingAndGlyphs">Wavelength (nm)</text>
<text font-family="Liberation Sans, sans-serif" font-size="22" font-weight="bold" transform="translate(22.2,374.2) rotate(-90)" textLength="373.6" lengthAdjust="spacingAndGlyphs">Molar extinction coefficient (M<tspan dy="-9" font-size="14">-1</tspan><tspan dy="9" dx="4"> cm</tspan><tspan dy="-9" font-size="14">-1</tspan><tspan dy="9">)</tspan></text>
<text font-family="Liberation Sans, sans-serif" font-size="22" font-weight="bold" transform="translate(645.5,55.2) rotate(90)" style="white-space:pre" textLength="270.3" lengthAdjust="spacingAndGlyphs">Normalized  Intensity (a.u.)</text>
<line x1="469.2" x2="511.7" y1="20.90" y2="20.90" stroke="#e06a6a" stroke-width="1"/>
<g fill="#d01818"><circle cx="490.7" cy="20.9" r="4.4"/></g>
<text font-family="Liberation Sans, sans-serif" font-size="18.5" font-weight="bold" x="517.2" y="26.60" textLength="73.5" lengthAdjust="spacingAndGlyphs">CN-CNIr</text>
<line x1="469.2" x2="511.7" y1="44.65" y2="44.65" stroke="#cc00ff" stroke-width="1"/>
<g fill="#cc00ff"><rect x="486.8" y="40.8" width="7.8" height="7.8"/></g>
<text font-family="Liberation Sans, sans-serif" font-size="18.5" font-weight="bold" x="517.6" y="50.35" textLength="23.5" lengthAdjust="spacingAndGlyphs">Bu</text>
<text font-family="Liberation Sans, sans-serif" font-size="18.5" font-weight="bold" x="542.6" y="50.35" textLength="45.5" lengthAdjust="spacingAndGlyphs">-CNIr</text>
<line x1="469.2" x2="511.7" y1="68.40" y2="68.40" stroke="#2a2a2a" stroke-width="1"/>
<g fill="#000"><path d="M490.7,63.2l5.2,5.2l-5.2,5.2l-5.2,-5.2z"/></g>
<text font-family="Liberation Sans, sans-serif" font-size="18.5" font-weight="bold" x="517.2" y="74.10" textLength="74.3" lengthAdjust="spacingAndGlyphs">DM-CNIr</text>
</svg>
</body></html>
